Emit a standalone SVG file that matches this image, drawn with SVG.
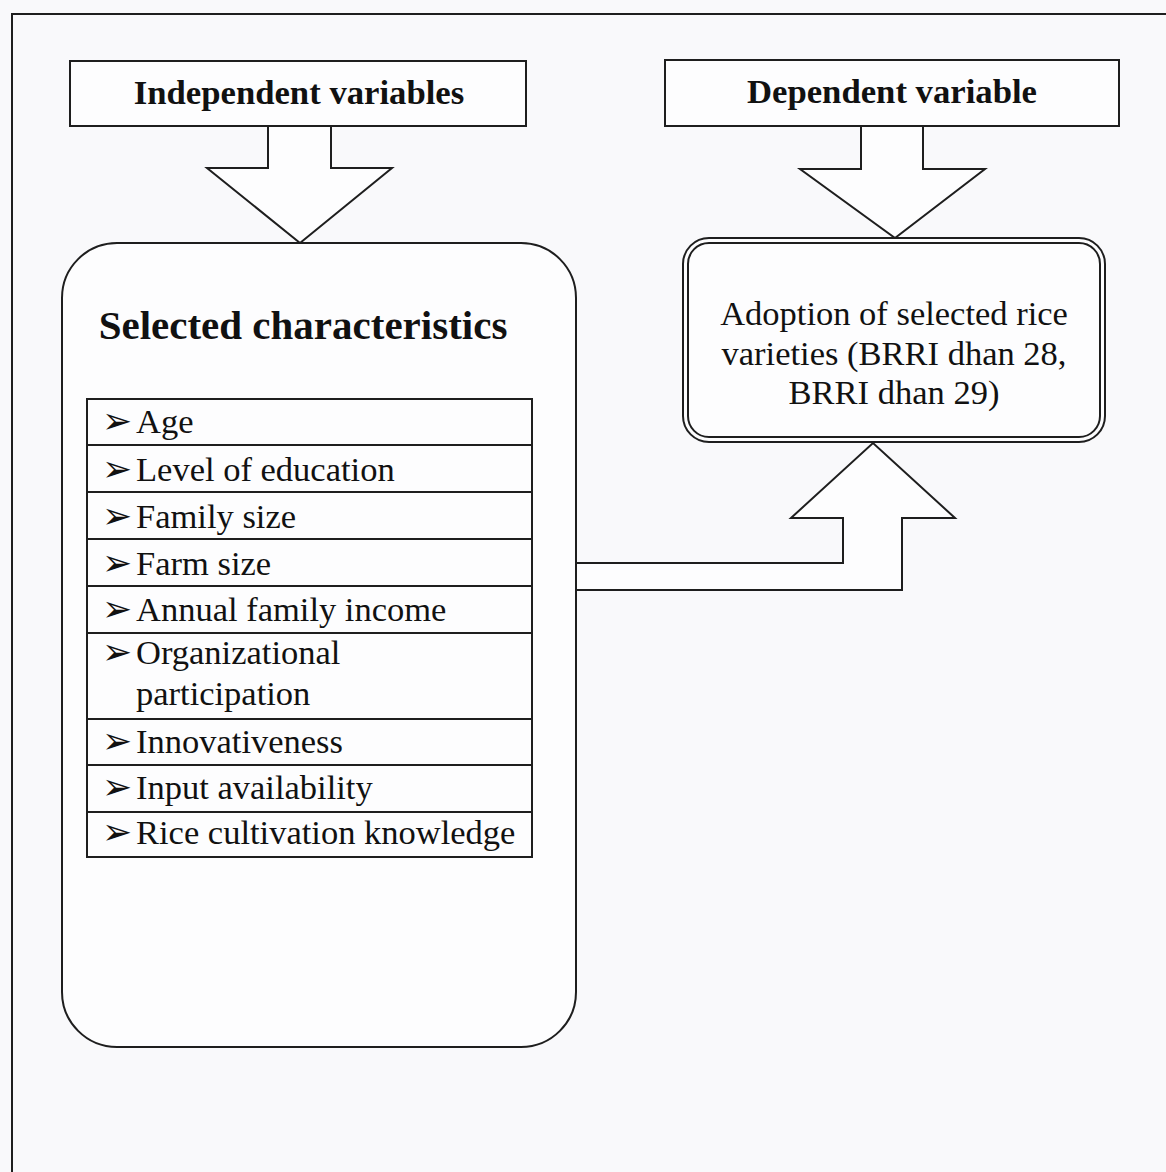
<svg xmlns="http://www.w3.org/2000/svg" width="1166" height="1172" viewBox="0 0 1166 1172">
<style>
.ln{fill:none;stroke:#1e1e1e;stroke-width:2}
.shape{fill:#fdfdfe;stroke:#1e1e1e;stroke-width:2}
.hd{font-family:"Liberation Serif","Times New Roman",serif;font-weight:bold;fill:#111}
.tx{font-family:"Liberation Serif","Times New Roman",serif;font-size:34.5px;fill:#111}
.bu{font-family:"DejaVu Sans",sans-serif;font-size:36px;fill:#111}
</style>
<rect width="1166" height="1172" fill="#f9f9fb"/>
<g id="frame">
<path class="ln" d="M12,1172 V14 H1166"/>
</g>
<g id="independent-variables">
<rect class="shape" x="70" y="61" width="456" height="65"/>
<text class="hd" x="299" y="104" font-size="34.7" text-anchor="middle">Independent variables</text>
</g>
<g id="dependent-variable">
<rect class="shape" x="665" y="60" width="454" height="66"/>
<text class="hd" x="892" y="103" font-size="34.7" text-anchor="middle">Dependent variable</text>
</g>
<g id="connectors">
<path class="shape" d="M268,127 V168 H207 L300,243 L392,168 H331 V127"/>
<path class="shape" d="M861,127 V169 H800 L895,238 L985,169 H923 V127"/>
</g>
<g id="selected-characteristics">
<rect class="shape" x="62" y="243" width="514" height="804" rx="55" ry="55"/>
<text class="hd" x="303" y="339" font-size="41" text-anchor="middle">Selected characteristics</text>
<rect class="shape" x="87" y="399" width="445" height="458"/>
<path class="ln" d="M87,445 H532 M87,492 H532 M87,539 H532 M87,586 H532 M87,633 H532 M87,719 H532 M87,765 H532 M87,812 H532"/>
<text class="bu" x="102" y="433">➢</text><text class="tx" x="136" y="433">Age</text>
<text class="bu" x="102" y="481">➢</text><text class="tx" x="136" y="481">Level of education</text>
<text class="bu" x="102" y="528">➢</text><text class="tx" x="136" y="528">Family size</text>
<text class="bu" x="102" y="575">➢</text><text class="tx" x="136" y="575">Farm size</text>
<text class="bu" x="102" y="621">➢</text><text class="tx" x="136" y="621">Annual family income</text>
<text class="bu" x="102" y="664">➢</text><text class="tx" x="136" y="664">Organizational</text>
<text class="tx" x="136" y="705">participation</text>
<text class="bu" x="102" y="753">➢</text><text class="tx" x="136" y="753">Innovativeness</text>
<text class="bu" x="102" y="799">➢</text><text class="tx" x="136" y="799">Input availability</text>
<text class="bu" x="102" y="844">➢</text><text class="tx" x="136" y="844">Rice cultivation knowledge</text>
</g>
<g id="adoption">
<rect class="shape" x="683" y="238" width="422" height="204" rx="26" ry="26"/>
<rect class="ln" x="688" y="243" width="412" height="194" rx="21" ry="21"/>
<text class="tx" x="894" y="325" text-anchor="middle">Adoption of selected rice</text>
<text class="tx" x="894" y="365" text-anchor="middle">varieties (BRRI dhan 28,</text>
<text class="tx" x="894" y="404" text-anchor="middle">BRRI dhan 29)</text>
</g>
<g id="connector-up">
<path class="shape" d="M577,563 H843 V518 H791 L873,443 L955,518 H902 V590 H577"/>
</g>
</svg>
